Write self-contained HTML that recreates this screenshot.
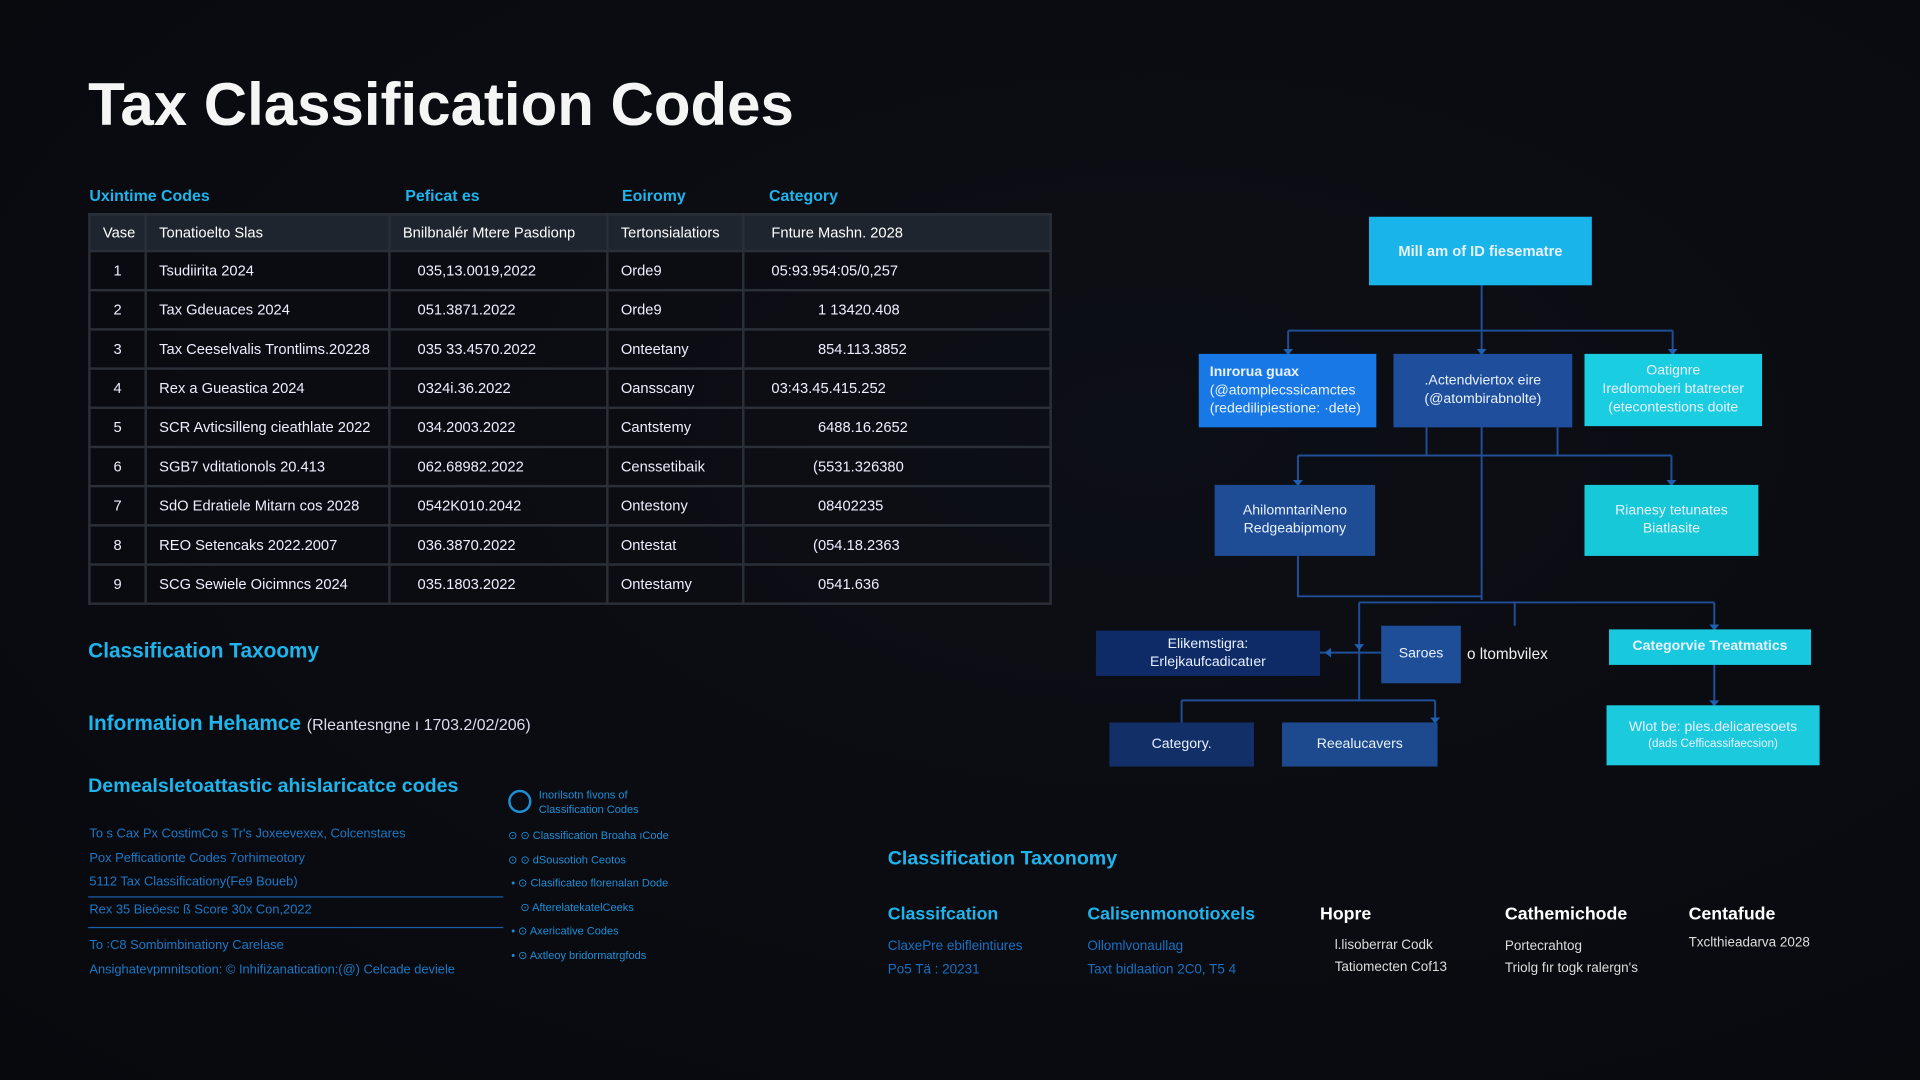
<!DOCTYPE html>
<html><head><meta charset="utf-8"><style>
html,body{margin:0;padding:0;background:#0a0b10;overflow:hidden}
body{width:1920px;height:1080px}
#c{position:absolute;left:0;top:0;width:1568px;height:882px;transform:scale(1.22449);transform-origin:0 0;font-family:"Liberation Sans",sans-serif;color:#fff;background:radial-gradient(ellipse at 60% 40%,#0d0f16 0%,#08090d 100%)}
.a{position:absolute;white-space:nowrap}
.cy{color:#1fb4ec}
.bx{position:absolute;display:flex;align-items:center;justify-content:center;text-align:center;font-size:11.5px;line-height:15px;color:#e8f2ff}
table{position:absolute;left:72px;top:174px;border-collapse:collapse;font-size:12px;table-layout:fixed;width:785px}
td{border:2px solid #2a2f38;height:32px;padding:0 10px;color:#eef;box-sizing:border-box;overflow:hidden;white-space:nowrap}
tr.h td{background:#1f252e;color:#fff;height:30px}
</style></head><body><div id="c">
<div class="a" style="left:72px;top:58px;font-size:49px;font-weight:bold;color:#f5f5f5">Tax Classification Codes</div>
<div class="a cy" style="left:73px;top:152px;font-size:13px;font-weight:bold">Uxintime Codes</div>
<div class="a cy" style="left:331px;top:152px;font-size:13px;font-weight:bold">Peficat es</div>
<div class="a cy" style="left:508px;top:152px;font-size:13px;font-weight:bold">Eoiromy</div>
<div class="a cy" style="left:628px;top:152px;font-size:13px;font-weight:bold">Category</div>
<table>
<colgroup><col style="width:46px"><col style="width:199px"><col style="width:178px"><col style="width:111px"><col style="width:251px"></colgroup>
<tr class="h"><td style="text-align:center">Vase</td><td>Tonatioelto Slas</td><td>Bnilbnalér Mtere Pasdionp</td><td>Tertonsialatiors</td><td style="padding-left:22px">Fnture Mashn. 2028</td></tr>
<tr><td style="text-align:center">1</td><td>Tsudiirita 2024</td><td style="padding-left:22px">035,13.0019,2022</td><td>Orde9</td><td style="padding-left:22px">05:93.954:05/0,257</td></tr>
<tr><td style="text-align:center">2</td><td>Tax Gdeuaces 2024</td><td style="padding-left:22px">051.3871.2022</td><td>Orde9</td><td style="padding-left:60px">1 13420.408</td></tr>
<tr><td style="text-align:center">3</td><td>Tax Ceeselvalis Trontlims.20228</td><td style="padding-left:22px">035 33.4570.2022</td><td>Onteetany</td><td style="padding-left:60px">854.113.3852</td></tr>
<tr><td style="text-align:center">4</td><td>Rex a Gueastica 2024</td><td style="padding-left:22px">0324i.36.2022</td><td>Oansscany</td><td style="padding-left:22px">03:43.45.415.252</td></tr>
<tr><td style="text-align:center">5</td><td>SCR Avticsilleng cieathlate 2022</td><td style="padding-left:22px">034.2003.2022</td><td>Cantstemy</td><td style="padding-left:60px">6488.16.2652</td></tr>
<tr><td style="text-align:center">6</td><td>SGB7 vditationols 20.413</td><td style="padding-left:22px">062.68982.2022</td><td>Censsetibaik</td><td style="padding-left:56px">(5531.326380</td></tr>
<tr><td style="text-align:center">7</td><td>SdO Edratiele Mitarn cos 2028</td><td style="padding-left:22px">0542K010.2042</td><td>Ontestony</td><td style="padding-left:60px">08402235</td></tr>
<tr><td style="text-align:center">8</td><td>REO Setencaks 2022.2007</td><td style="padding-left:22px">036.3870.2022</td><td>Ontestat</td><td style="padding-left:56px">(054.18.2363</td></tr>
<tr><td style="text-align:center">9</td><td>SCG Sewiele Oicimncs 2024</td><td style="padding-left:22px">035.1803.2022</td><td>Ontestamy</td><td style="padding-left:60px">0541.636</td></tr>
</table>
<div class="a cy" style="left:72px;top:522px;font-size:17px;font-weight:bold">Classification Taxoomy</div>
<div class="a" style="left:72px;top:581px;font-size:17px"><b class="cy">Information Hehamce</b> <span style="font-size:13px;color:#dde">(Rleantesngne ı 1703.2/02/206)</span></div>
<div class="a cy" style="left:72px;top:634px;font-size:16px;font-weight:bold">Demealsletoattastic ahislaricatce codes</div>
<div class="a" style="left:73px;top:672px;font-size:10.5px;color:#1c78c4;line-height:19.5px">To s Cax Px CostimCo s Tr's Joxeevexex, Colcenstares<br>Pox Pefficationte Codes 7orhimeotory<br>5112 Tax Classificationy(Fe9 Boueb)</div>
<div class="a" style="left:72px;top:732px;width:339px;border-top:1.5px solid #1a5fa8"></div>
<div class="a" style="left:73px;top:737px;font-size:10.5px;color:#1c78c4">Rex 35 Bieöesc ß Score 30x Con,2022</div>
<div class="a" style="left:72px;top:757px;width:339px;border-top:1.5px solid #1a5fa8"></div>
<div class="a" style="left:73px;top:762px;font-size:10.5px;color:#1c78c4;line-height:20px">To ꞉C8 Sombimbinationy Carelase<br>Ansighatevpmnitsotion: © Inhifiżanatication:(@) Celcade deviele</div>
<div class="a" style="left:415px;top:645px;width:15px;height:15px;border:2.5px solid #1e8fd6;border-radius:50%"></div>
<div class="a" style="left:440px;top:643px;font-size:9px;color:#1e8fd6;line-height:12px">Inorilsotn fivons of<br>Classification Codes</div>
<div class="a" style="left:415px;top:673px;font-size:9px;color:#1e8fd6;line-height:19.5px">⊙ ⊙ Classification Broaha ıCode<br>⊙ ⊙ dSousotioh Ceotos<br>&nbsp;• ⊙ Clasificateo florenalan Dode<br>&nbsp;&nbsp;&nbsp;&nbsp;⊙ AfterelatekatelCeeks<br>&nbsp;• ⊙ Axericative Codes<br>&nbsp;• ⊙ Axtleoy bridormatrgfods</div>

<svg class="a" style="left:0;top:0" width="1568" height="882">
<g stroke="#1f4f98" stroke-width="1.6" fill="none">
<path d="M1210 233V490M1052 270H1366M1052 270V289M1366 270V289M1165 349V372M1272 349V372M1060 372H1365M1060 372V396M1365 372V396M1060 454V487H1210M1110 492H1400M1110 492V572M1237 492V511M1400 492V514M1078 533H1128M965 572H1172M965 572V590M1172 572V590M1400 543V576"/>
</g>
<g fill="#1f5fb0"><path d="M1048 285h8l-4 5zM1362 285h8l-4 5zM1206 285h8l-4 5zM1056 392h8l-4 5zM1361 392h8l-4 5zM1396 510h8l-4 5zM1396 572h8l-4 5zM1106 526h8l-4 5zM1168 586h8l-4 5zM1082 533l5-4v8z"/></g>
</svg>
<div class="bx" style="left:1118px;top:177px;width:182px;height:56px;background:#19b4ea;font-size:12px;font-weight:bold">Mill am of ID fiesematre</div>
<div class="bx" style="left:979px;top:289px;width:145px;height:60px;background:#1878e6;justify-content:flex-start;text-align:left;padding-left:9px;box-sizing:border-box"><div><b>Inırorua guax</b><br>(@atomplecssicamctes<br>(rededilipiestione: ·dete)</div></div>
<div class="bx" style="left:1138px;top:289px;width:146px;height:60px;background:#1f4f9c">.Actendviertox eire<br>(@atombirabnolte)</div>
<div class="bx" style="left:1294px;top:289px;width:145px;height:59px;background:#1bcde0">Oatignre<br>Iredlomoberi btatrecter<br>(etecontestions doite</div>
<div class="bx" style="left:992px;top:396px;width:131px;height:58px;background:#1e4d96">AhilomntariNeno<br>Redgeabipmony</div>
<div class="bx" style="left:1294px;top:396px;width:142px;height:58px;background:#17c8d8">Rianesy tetunates<br>Biatlasite</div>
<div class="bx" style="left:895px;top:515px;width:183px;height:37px;background:#0e2b68">Elikemstigra:<br>Erlejkaufcadicatıer</div>
<div class="bx" style="left:1128px;top:511px;width:65px;height:47px;background:#1e4e98">Saroes</div>
<div class="a" style="left:1198px;top:527px;font-size:12.5px;color:#f0f0f0">o ltombvilex</div>
<div class="bx" style="left:1314px;top:514px;width:165px;height:29px;background:#18c8de;font-weight:bold">Categorvie Treatmatics</div>
<div class="bx" style="left:906px;top:590px;width:118px;height:36px;background:#132f68">Category.</div>
<div class="bx" style="left:1047px;top:590px;width:127px;height:36px;background:#1d4a8e">Reealucavers</div>
<div class="bx" style="left:1312px;top:576px;width:174px;height:49px;background:#1ccade;line-height:13px;flex-direction:column"><div>Wlot be: ples.delicaresoets</div><div style="font-size:9.5px">(dads Cefficassifaecsion)</div></div>

<div class="a cy" style="left:725px;top:693px;font-size:16px;font-weight:bold">Classification Taxonomy</div>
<div class="a cy" style="left:725px;top:739px;font-size:14.5px;font-weight:bold">Classifcation</div>
<div class="a" style="left:725px;top:764px;font-size:11px;color:#1a6fc0;line-height:19px">ClaxePre ebifleintiures<br>Po5 Tä : 20231</div>
<div class="a cy" style="left:888px;top:739px;font-size:14.5px;font-weight:bold">Calisenmonotioxels</div>
<div class="a" style="left:888px;top:764px;font-size:11px;color:#1a6fc0;line-height:19px">Ollomlvonaullag<br>Taxt bidlaation 2C0, T5 4</div>
<div class="a" style="left:1078px;top:739px;font-size:14.5px;font-weight:bold">Hopre</div>
<div class="a" style="left:1090px;top:763px;font-size:11px;color:#ddd;line-height:18px">l.lisoberrar Codk<br>Tatiomecten Cof13</div>
<div class="a" style="left:1229px;top:739px;font-size:14.5px;font-weight:bold">Cathemichode</div>
<div class="a" style="left:1229px;top:764px;font-size:11px;color:#ddd;line-height:18px">Portecrahtog<br>Triolg fır togk ralergn's</div>
<div class="a" style="left:1379px;top:739px;font-size:14.5px;font-weight:bold">Centafude</div>
<div class="a" style="left:1379px;top:764px;font-size:11px;color:#ddd">Txclthieadarva 2028</div>
</div></body></html>
